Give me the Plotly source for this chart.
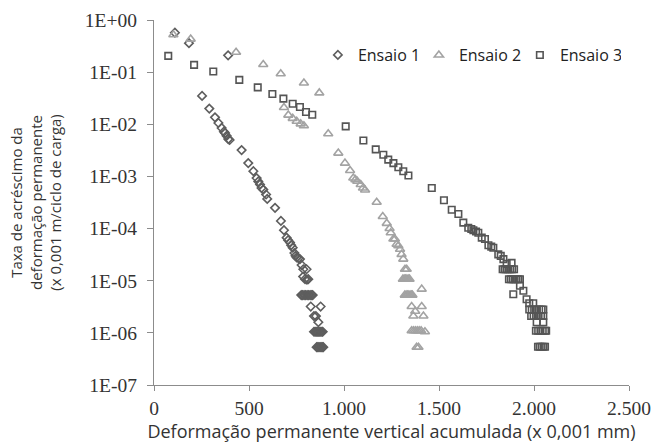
import plotly.graph_objects as go

# Ensaio 1 (diamonds)
x1 = [110, 184, 390, 253, 291, 321, 339, 356, 368, 374, 382, 391, 398,
      461, 496, 523, 540, 549, 558, 566, 575, 590, 596,
      637, 668, 684, 698, 706, 716, 722, 730, 739, 745, 751, 760, 768,
      777, 786, 803, 785, 795, 805, 812,
      775, 782, 790, 798, 806, 814, 822, 830, 835,
      825, 877, 842, 852, 865,
      842, 848, 854, 860, 866, 872, 878, 884, 888,
      856, 862, 868, 874, 880, 886, 891]
y1 = [0.57, 0.36, 0.21, 0.035, 0.020, 0.0136, 0.0106, 0.0085, 0.0072, 0.0068, 0.006, 0.0052, 0.005,
      0.0032, 0.0018, 0.00126, 0.00093, 0.0008, 0.0007, 0.0006, 0.00056, 0.00045, 0.00037,
      0.00025, 1.4e-4, 9.3e-5, 6.7e-5, 6.0e-5, 5.4e-5, 4.8e-5, 4.3e-5, 3.4e-5, 3.0e-5, 2.8e-5, 2.7e-5, 2.6e-5,
      2.0e-5, 1.66e-5, 1.66e-5, 1.2e-5, 1.07e-5, 1.05e-5, 1.07e-5,
      5.3e-6, 5.3e-6, 5.3e-6, 5.3e-6, 5.3e-6, 5.3e-6, 5.3e-6, 5.3e-6, 5.3e-6,
      3.2e-6, 3.2e-6, 2.1e-6, 2.1e-6, 1.6e-6,
      1.05e-6, 1.05e-6, 1.05e-6, 1.05e-6, 1.05e-6, 1.05e-6, 1.05e-6, 1.05e-6, 1.05e-6,
      5.3e-7, 5.3e-7, 5.3e-7, 5.3e-7, 5.3e-7, 5.3e-7, 5.3e-7]

# Ensaio 2 (triangles)
x2 = [102, 193, 432, 575, 667, 789, 870,
      684, 707, 730, 751, 772, 789,
      917, 970, 1005, 1032, 1049, 1060, 1070, 1088, 1100, 1111,
      1172, 1204, 1225, 1240, 1246, 1260, 1268, 1277, 1286, 1295, 1303, 1312, 1321, 1330,
      1310, 1317, 1324, 1331, 1338, 1345,
      1409,
      1320, 1327, 1334, 1341, 1348, 1355, 1360,
      1356, 1409, 1365, 1418, 1375,
      1356, 1366, 1376, 1386, 1396, 1406, 1426,
      1382, 1392]
y2 = [0.52, 0.43, 0.24, 0.14, 0.093, 0.062, 0.040,
      0.021, 0.015, 0.013, 0.0114, 0.0102, 0.0094,
      0.0066, 0.0028, 0.0018, 0.0013, 0.00093, 0.00087, 0.00081, 0.0007, 0.0006, 0.00055,
      0.00032, 1.7e-4, 1.26e-4, 1.0e-4, 8.3e-5, 6.3e-5, 6.3e-5, 5.0e-5, 4.7e-5, 4.0e-5, 3.2e-5, 2.6e-5, 1.66e-5, 1.66e-5,
      1.07e-5, 1.07e-5, 1.07e-5, 1.07e-5, 1.07e-5, 1.07e-5,
      6.9e-6,
      5.3e-6, 5.3e-6, 5.3e-6, 5.3e-6, 5.3e-6, 5.3e-6, 5.3e-6,
      3.2e-6, 3.2e-6, 2.1e-6, 2.1e-6, 2.6e-6,
      1.1e-6, 1.1e-6, 1.1e-6, 1.1e-6, 1.1e-6, 1.1e-6, 1.05e-6,
      5.3e-7, 5.3e-7]

# Ensaio 3 (squares)
x3 = [75, 211, 312, 449, 546, 623, 681, 730, 768, 800, 833,
      1009, 1102, 1167, 1207, 1233, 1260, 1286, 1312, 1339,
      1462, 1526, 1567, 1602, 1628, 1654, 1670, 1681, 1695, 1707, 1725, 1742, 1760, 1775, 1786,
      1812, 1825, 1839, 1856, 1882,
      1835, 1845, 1855, 1865, 1875, 1885, 1895,
      1868, 1878, 1888, 1898, 1908, 1918, 1926,
      1926, 1944, 1891, 1961, 1996, 1975,
      1975, 1988, 2001, 2014, 2027, 2040, 2049,
      1985, 1998, 2011, 2024, 2037, 2049,
      2014, 2049,
      2010, 2022, 2034, 2046, 2058, 2064,
      2021, 2030, 2040, 2050, 2058]
y3 = [0.205, 0.138, 0.103, 0.071, 0.051, 0.038, 0.031, 0.0248, 0.0214, 0.0172, 0.0152,
      0.0091, 0.0049, 0.0033, 0.0026, 0.0021, 0.0018, 0.0015, 0.00126, 0.00104,
      0.0006, 0.00035, 0.00023, 0.00019, 1.3e-4, 1.04e-4, 9.8e-5, 9.3e-5, 8.8e-5, 8.3e-5, 6.7e-5, 6.3e-5, 4.8e-5, 4.5e-5, 4.3e-5,
      3.2e-5, 3.0e-5, 2.6e-5, 2.1e-5, 2.2e-5,
      1.66e-5, 1.66e-5, 1.66e-5, 1.66e-5, 1.66e-5, 1.66e-5, 1.66e-5,
      1.07e-5, 1.07e-5, 1.07e-5, 1.07e-5, 1.07e-5, 1.07e-5, 1.07e-5,
      8.0e-6, 6.4e-6, 5.5e-6, 4.4e-6, 3.7e-6, 3.7e-6,
      2.8e-6, 2.8e-6, 2.8e-6, 2.8e-6, 2.8e-6, 2.8e-6, 2.8e-6,
      2.1e-6, 2.1e-6, 2.1e-6, 2.1e-6, 2.1e-6, 2.1e-6,
      1.6e-6, 1.6e-6,
      1.1e-6, 1.1e-6, 1.1e-6, 1.1e-6, 1.1e-6, 1.1e-6,
      5.4e-7, 5.4e-7, 5.4e-7, 5.4e-7, 5.4e-7]

series_names = ["Ensaio 1", "Ensaio 2", "Ensaio 3"]
x_tickvals = [0, 500, 1000, 1500, 2000, 2500]
x_ticktext = ["0", "500", "1.000", "1.500", "2.000", "2.500"]
y_tickvals = [1, 1e-1, 1e-2, 1e-3, 1e-4, 1e-5, 1e-6, 1e-7]
y_ticktext = ["1E+00", "1E-01", "1E-02", "1E-03", "1E-04", "1E-05", "1E-06", "1E-07"]

fig = go.Figure()
fig.add_trace(go.Scatter(x=x1, y=y1, mode="markers", name=series_names[0],
                         marker=dict(symbol="diamond-open", size=6.5, color="#5e5e5e",
                                     line=dict(width=1.6, color="#5e5e5e"))))
fig.add_trace(go.Scatter(x=x2, y=y2, mode="markers", name=series_names[1],
                         marker=dict(symbol="triangle-up-open", size=8, color="#a3a3a3",
                                     line=dict(width=1.6, color="#a3a3a3"))))
fig.add_trace(go.Scatter(x=x3, y=y3, mode="markers", name=series_names[2],
                         marker=dict(symbol="square-open", size=6.5, color="#555555",
                                     line=dict(width=1.6, color="#555555"))))

axis_color = "#8c8c8c"
tick_font = dict(family="Liberation Serif", size=19.5, color="#333333")

fig.update_layout(
    width=651, height=443,
    margin=dict(l=154, r=22, t=20, b=58, autoexpand=False),
    paper_bgcolor="white", plot_bgcolor="white",
    showlegend=True,
    legend=dict(orientation="h", x=0.345, y=0.904, xanchor="left", yanchor="middle",
                font=dict(family="Open Sans", size=16, color="#222222"),
                itemwidth=30, entrywidth=56, entrywidthmode="pixels",
                bgcolor="rgba(0,0,0,0)"),
    xaxis=dict(range=[0, 2500], tickvals=x_tickvals, ticktext=x_ticktext, automargin=False,
               showgrid=False, zeroline=False, showline=True, linecolor=axis_color, linewidth=1.3,
               ticks="outside", ticklen=5, tickcolor=axis_color, tickwidth=1.3,
               tickfont=tick_font,
               title=dict(text="Deformação permanente vertical acumulada (x 0,001 mm)",
                          font=dict(family="Open Sans", size=18, color="#333333"), standoff=11)),
    yaxis=dict(type="log", range=[-7, 0], tickvals=y_tickvals, ticktext=y_ticktext, automargin=False,
               showgrid=False, zeroline=False, showline=True, linecolor=axis_color, linewidth=1.3,
               ticks="outside", ticklen=6, tickcolor=axis_color, tickwidth=1.3,
               tickfont=tick_font, ticklabelstandoff=6,
               title=dict(text="Taxa de acréscimo da<br>deformação permanente<br>(x 0,001 m/ciclo de carga)",
                          font=dict(family="Open Sans", size=15, color="#333333"), standoff=19)),
)

fig.write_html("out.html")
